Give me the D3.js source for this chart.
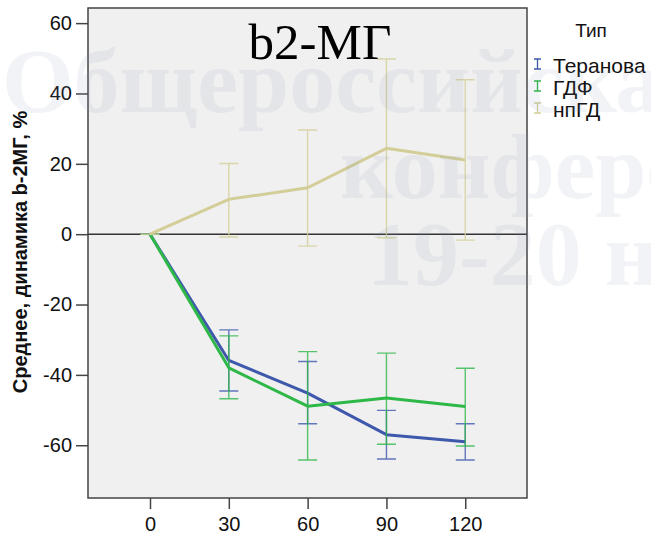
<!DOCTYPE html>
<html>
<head>
<meta charset="utf-8">
<script src="https://cdn.jsdelivr.net/npm/d3@7"></script>
<style>
    body { margin: 0; background: #fff; }
    svg { display: block; }
</style>
</head>
<body>
<script>
// days after start
var days = [0, 30, 60, 90, 120];
var seriesNames = ["Теранова", "ГДФ", "нпГД"];
var seriesColors = ["#3E58AC", "#2EB848", "#D3CE97"];

// mean change, %, with lower / upper error bar ends
var teranovaMean = [0, -35.9, -45.2, -57.0, -59.0];
var teranovaLow  = [0, -44.6, -53.9, -63.9, -64.2];
var teranovaHigh = [0, -27.2, -36.2, -50.1, -53.9];

var gdfMean = [0, -38.0, -48.9, -46.6, -49.0];
var gdfLow  = [0, -46.8, -64.2, -59.7, -60.2];
var gdfHigh = [0, -28.9, -33.4, -33.8, -38.1];

var npgdMean = [0, 9.9, 13.2, 24.4, 21.1];
var npgdLow  = [0, -0.8, -3.4, -1.0, -1.7];
var npgdHigh = [0, 20.1, 29.6, 49.8, 43.9];

var yTicks = [-60, -40, -20, 0, 20, 40, 60];
var xTicks = [0, 30, 60, 90, 120];

var watermarkLines = ["Общероссийская", "конференция", "19-20 ноября"];

var series = [
    {name: seriesNames[0], color: seriesColors[0], mean: teranovaMean, low: teranovaLow, high: teranovaHigh},
    {name: seriesNames[1], color: seriesColors[1], mean: gdfMean, low: gdfLow, high: gdfHigh},
    {name: seriesNames[2], color: seriesColors[2], mean: npgdMean, low: npgdLow, high: npgdHigh}
];

var width = 651, height = 536;
var plot = {left: 88, right: 527, top: 8, bottom: 498};

var svg = d3.select("body").append("svg")
    .attr("width", width)
    .attr("height", height);

var x = d3.scaleLinear().domain([-23.6, 143.5]).range([plot.left, plot.right]);
var y = d3.scaleLinear().domain([-75, 64.3]).range([plot.bottom, plot.top]);

svg.append("rect")
    .attr("x", plot.left)
    .attr("y", plot.top)
    .attr("width", plot.right - plot.left)
    .attr("height", plot.bottom - plot.top)
    .style("fill", "#F0F0F0");

// reference line at zero
svg.append("line")
    .attr("x1", plot.left).attr("x2", plot.right)
    .attr("y1", y(0)).attr("y2", y(0))
    .style("stroke", "#333")
    .style("stroke-width", 1.6);

var capHalf = 9.5;

series.forEach(function(s) {
    var g = svg.append("g");
    var pts = days.map(function(d, i) {
        return {day: d, mean: s.mean[i], low: s.low[i], high: s.high[i]};
    });

    g.selectAll(".ebar")
        .data(pts)
        .enter()
        .append("path")
        .attr("class", "ebar")
        .attr("d", function(d) {
            var cx = x(d.day);
            return "M" + (cx - capHalf) + "," + y(d.high) + "H" + (cx + capHalf)
                + "M" + cx + "," + y(d.high) + "V" + y(d.low)
                + "M" + (cx - capHalf) + "," + y(d.low) + "H" + (cx + capHalf);
        })
        .style("fill", "none")
        .style("stroke", s.color)
        .style("stroke-opacity", 0.8)
        .style("stroke-width", 1.4);

    var line = d3.line()
        .x(function(d) { return x(d.day); })
        .y(function(d) { return y(d.mean); });

    g.append("path")
        .datum(pts)
        .attr("d", line)
        .style("fill", "none")
        .style("stroke", s.color)
        .style("stroke-width", 3)
        .style("stroke-linejoin", "round");
});

svg.append("rect")
    .attr("x", plot.left)
    .attr("y", plot.top)
    .attr("width", plot.right - plot.left)
    .attr("height", plot.bottom - plot.top)
    .style("fill", "none")
    .style("stroke", "#444")
    .style("stroke-width", 1.5);

// axes (plain hyphen for negatives, like the original)
var fmt = function(d) { return String(d); };
var yAxis = svg.append("g")
    .attr("transform", "translate(" + plot.left + ",0)")
    .call(d3.axisLeft(y).tickValues(yTicks).tickFormat(fmt).tickSize(12).tickPadding(4).tickSizeOuter(0));
var xAxis = svg.append("g")
    .attr("transform", "translate(0," + plot.bottom + ")")
    .call(d3.axisBottom(x).tickValues(xTicks).tickFormat(fmt).tickSize(11).tickPadding(8).tickSizeOuter(0));

[yAxis, xAxis].forEach(function(ax) {
    ax.select(".domain").remove();
    ax.selectAll(".tick line").style("stroke", "#444").style("stroke-width", 1.5);
    ax.selectAll(".tick text")
        .style("font-family", "Liberation Sans, Arial, sans-serif")
        .style("font-size", "20px")
        .style("fill", "#111");
});

svg.append("text")
    .attr("transform", "translate(27,252) rotate(-90)")
    .attr("text-anchor", "middle")
    .style("font-family", "Liberation Sans, Arial, sans-serif")
    .style("font-weight", "bold")
    .style("font-size", "20px")
    .style("fill", "#111")
    .text("Среднее, динамика b-2МГ, %");

svg.append("text")
    .attr("x", 320)
    .attr("y", 59)
    .attr("text-anchor", "middle")
    .style("font-family", "Liberation Serif, Times New Roman, serif")
    .style("font-size", "51px")
    .style("fill", "#000")
    .text("b2-МГ");

// legend
var legend = svg.append("g");
legend.append("text")
    .attr("x", 591)
    .attr("y", 37)
    .attr("text-anchor", "middle")
    .style("font-family", "Liberation Sans, Arial, sans-serif")
    .style("font-size", "19px")
    .style("fill", "#111")
    .text("Тип");

var item = legend.selectAll(".item")
    .data(series)
    .enter()
    .append("g")
    .attr("class", "item")
    .attr("transform", function(d, i) { return "translate(0," + (73 + i * 22) + ")"; });

item.append("path")
    .attr("d", "M534,-14H541M537.5,-14V-4M534,-4H541")
    .style("fill", "none")
    .style("stroke", function(d) { return d.color; })
    .style("stroke-width", 1.3);

item.append("text")
    .attr("x", 553)
    .attr("y", 0)
    .style("font-family", "Liberation Sans, Arial, sans-serif")
    .style("font-size", "21px")
    .style("fill", "#111")
    .text(function(d) { return d.name; });

// faint watermark over the picture
var wmX = [2, 340, 367];
var wmY = [112, 198, 285];
svg.append("g")
    .style("pointer-events", "none")
    .selectAll("text")
    .data(watermarkLines)
    .enter()
    .append("text")
    .attr("x", function(d, i) { return wmX[i]; })
    .attr("y", function(d, i) { return wmY[i]; })
    .style("font-family", "Liberation Serif, Times New Roman, serif")
    .style("font-weight", "bold")
    .style("font-size", "92px")
    .style("fill", "#7f95ad")
    .style("fill-opacity", 0.11)
    .text(function(d) { return d; });
</script>
</body>
</html>
